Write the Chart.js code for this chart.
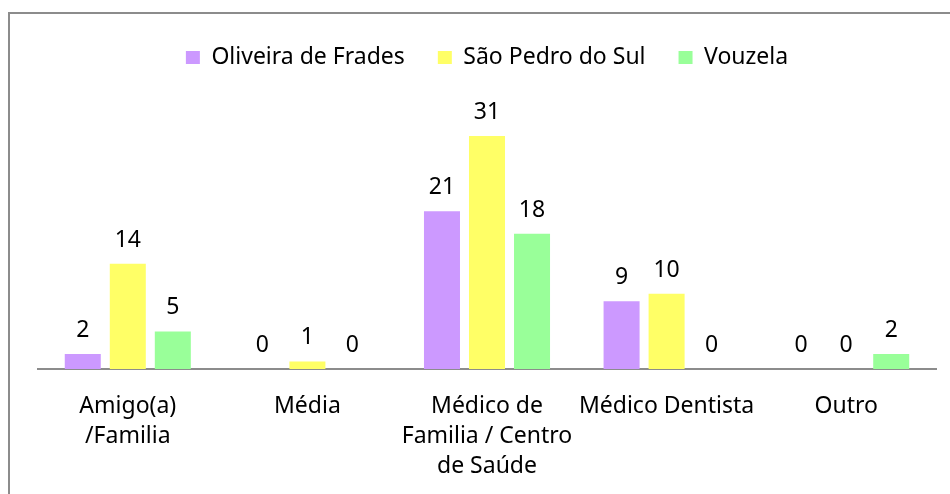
<!DOCTYPE html>
<html>
<head>
<meta charset="utf-8">
<script src="https://cdn.jsdelivr.net/npm/chart.js@4"></script>
<style>
  html, body { margin: 0; padding: 0; background: #fff; overflow: hidden; }
  #frame { position: absolute; left: 8px; top: 12px; width: 980px; height: 520px; border: 2px solid #8c8c8c; }
  #wrap { position: absolute; left: 0; top: 0; width: 950px; height: 494px; }
</style>
</head>
<body>
<div id="frame"></div>
<div id="wrap"><canvas id="chart"></canvas></div>
<script>
// categories and series
const categories = [
  ["Amigo(a)", "/Familia"],
  "Média",
  ["Médico de", "Familia / Centro", "de Saúde"],
  "Médico Dentista",
  "Outro"
];
const oliveira = [2, 0, 21, 9, 0];
const saoPedro = [14, 1, 31, 10, 0];
const vouzela = [5, 0, 18, 0, 2];

const FONT = "'Noto Sans', 'Open Sans', sans-serif";
const SIZE = 23;

// value labels above each bar
const valueLabels = {
  id: "valueLabels",
  afterDatasetsDraw(chart) {
    const ctx = chart.ctx;
    ctx.save();
    ctx.font = SIZE + "px " + FONT;
    ctx.fillStyle = "#000";
    ctx.textAlign = "center";
    ctx.textBaseline = "alphabetic";
    chart.data.datasets.forEach((ds, i) => {
      chart.getDatasetMeta(i).data.forEach((bar, j) => {
        ctx.fillText(ds.data[j], bar.x, bar.y - 17);
      });
    });
    ctx.restore();
  }
};

// fixed legend height so the plot starts lower
const legendGap = {
  id: "legendGap",
  beforeInit(chart) {
    const fit = chart.legend.fit;
    chart.legend.fit = function () {
      fit.bind(chart.legend)();
      this.height = 93;
    };
  }
};

new Chart(document.getElementById("chart"), {
  type: "bar",
  data: {
    labels: categories,
    datasets: [
      { label: "Oliveira de Frades", data: oliveira, backgroundColor: "#CC99FF" },
      { label: "São Pedro do Sul", data: saoPedro, backgroundColor: "#FFFF66" },
      { label: "Vouzela", data: vouzela, backgroundColor: "#99FF99" }
    ]
  },
  options: {
    responsive: true,
    maintainAspectRatio: false,
    animation: false,
    categoryPercentage: 0.752,
    barPercentage: 0.8,
    layout: { padding: { left: 38, right: 14, top: 13, bottom: 0 } },
    plugins: {
      tooltip: { enabled: false },
      legend: {
        position: "top",
        labels: {
          font: { family: FONT, size: SIZE },
          color: "#000",
          boxWidth: 14,
          boxHeight: 13,
          padding: 33
        }
      }
    },
    scales: {
      y: { display: false, min: 0, max: 35 },
      x: {
        grid: { display: false },
        border: { display: true, color: "#8c8c8c", width: 2 },
        ticks: {
          font: { family: FONT, size: SIZE, lineHeight: 1.3 },
          color: "#000",
          padding: 15,
          maxRotation: 0,
          autoSkip: false
        },
        afterFit(scale) { scale.height = 125; }
      }
    }
  },
  plugins: [valueLabels, legendGap]
});
</script>
</body>
</html>
